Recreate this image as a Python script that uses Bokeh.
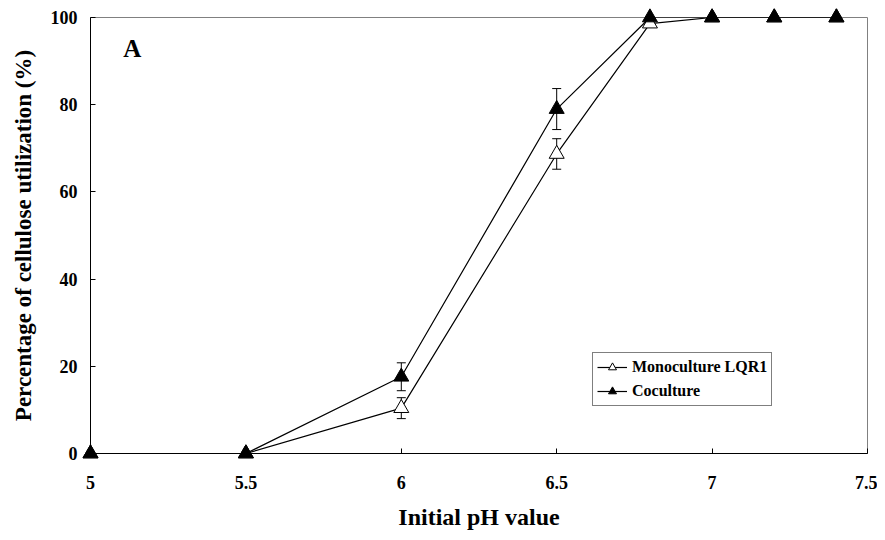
from bokeh.plotting import figure
from bokeh.models import Range1d, Whisker, TeeHead, ColumnDataSource, Legend, LegendItem, Label, FixedTicker
from bokeh.embed import file_html
from bokeh.resources import INLINE

ph = [5, 5.5, 6, 6.5, 6.8, 7, 7.2, 7.4]
mono = [0, 0, 10.4, 68.7, 98.6, 100, 100, 100]
mono_err = [0, 0, 2.4, 3.5, 0, 0, 0, 0]
co = [0, 0, 17.6, 79.0, 100, 100, 100, 100]
co_err = [0, 0, 3.2, 4.7, 0, 0, 0, 0]
x_ticks = [5, 5.5, 6, 6.5, 7, 7.5]
y_ticks = [0, 20, 40, 60, 80, 100]

FONT = "Liberation Serif"

p = figure(width=877, height=532, output_backend="svg", toolbar_location=None,
           x_range=Range1d(5, 7.5), y_range=Range1d(0, 100),
           min_border_left=90, min_border_top=17, min_border_right=10, min_border_bottom=78)
p.xgrid.visible = False
p.ygrid.visible = False
p.outline_line_color = "#808080"
p.background_fill_color = "white"
p.border_fill_color = "white"

for ax, ticks in ((p.xaxis, x_ticks), (p.yaxis, y_ticks)):
    ax.ticker = FixedTicker(ticks=ticks)
    ax.major_tick_in = 5
    ax.major_tick_out = 0
    ax.minor_tick_line_color = None
    ax.axis_line_color = "black"
    ax.major_tick_line_color = "black"
    ax.major_label_text_font = FONT
    ax.major_label_text_font_style = "bold"
    ax.major_label_text_font_size = "18px"
    ax.major_label_text_color = "black"
    ax.axis_label_text_font = FONT
    ax.axis_label_text_font_style = "bold"
    ax.axis_label_text_color = "black"

p.xaxis.axis_label = "Initial pH value"
p.yaxis.axis_label = "Percentage of cellulose utilization (%)"
p.xaxis.axis_label_text_font_size = "24px"
p.yaxis.axis_label_text_font_size = "23px"
p.xaxis.major_label_standoff = 22
p.xaxis.axis_label_standoff = 12
p.yaxis.major_label_standoff = 13
p.yaxis.axis_label_standoff = 12

src_m = ColumnDataSource(dict(x=ph, y=mono, up=[a + b for a, b in zip(mono, mono_err)],
                              lo=[a - b for a, b in zip(mono, mono_err)]))
src_c = ColumnDataSource(dict(x=ph, y=co, up=[a + b for a, b in zip(co, co_err)],
                              lo=[a - b for a, b in zip(co, co_err)]))

for src in (src_m, src_c):
    w = Whisker(base="x", upper="up", lower="lo", source=src, line_color="black", line_width=1,
                upper_head=TeeHead(size=9, line_color="black"),
                lower_head=TeeHead(size=9, line_color="black"))
    p.add_layout(w)

lm = p.line("x", "y", source=src_m, line_color="black", line_width=1.2)
lc = p.line("x", "y", source=src_c, line_color="black", line_width=1.2)
sm = p.scatter("x", "y", source=src_m, marker="triangle", size=15, fill_color="white",
               line_color="black", line_width=1, level="overlay")
sc = p.scatter("x", "y", source=src_c, marker="triangle", size=15, fill_color="black",
               line_color="black", line_width=1, level="overlay")

legend = Legend(items=[LegendItem(label="Monoculture LQR1", renderers=[lm, sm]),
                       LegendItem(label="Coculture", renderers=[lc, sc])],
                location=(502, 47), border_line_color="black", border_line_width=1,
                label_text_font=FONT, label_text_font_style="bold", label_text_font_size="16px",
                label_text_color="black", padding=4, spacing=4, glyph_width=30, glyph_height=20,
                label_height=20, label_standoff=5, margin=0, background_fill_alpha=1)
p.add_layout(legend)

p.add_layout(Label(x=5.105, y=89.7, text="A", text_font=FONT, text_font_style="bold",
                   text_font_size="25px", text_color="black"))

open("out.html", "w").write(file_html(p, INLINE))
